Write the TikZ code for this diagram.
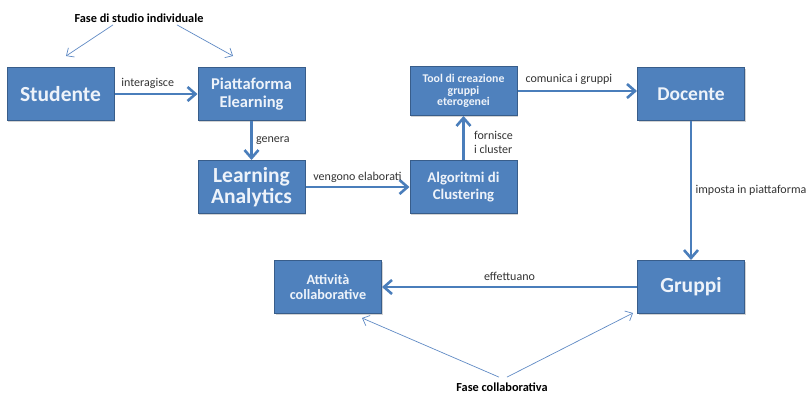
\documentclass[tikz,border=0pt]{standalone}
\usepackage{fontspec}
\setmainfont{Carlito}
\usepackage{tikz}
\usepackage{xcolor}
\usetikzlibrary{arrows.meta,positioning,shadows}

\definecolor{boxblue}{HTML}{4F81BD}
\definecolor{boxborder}{HTML}{385D8A}
\definecolor{boxtext}{HTML}{EEF3FA}
\definecolor{flowblue}{HTML}{4A7EBB}
\definecolor{hintblue}{HTML}{5F8AC4}

\begin{document}
\begin{tikzpicture}[
    x=1pt, y=-1pt,
    box/.style={rectangle, draw=boxborder, fill=boxblue, text=boxtext, line width=1pt,
        minimum width=107pt, minimum height=53pt, inner sep=2pt, align=center,
        drop shadow={shadow xshift=1.2pt, shadow yshift=-1.2pt, opacity=0.35}},
    big/.style={font=\fontsize{21.5}{21}\selectfont\bfseries},
    mid/.style={font=\fontsize{16.5}{17.5}\selectfont\bfseries},
    small/.style={font=\fontsize{11.8}{11.8}\selectfont\bfseries},
    lbl/.style={font=\fontsize{12}{13.5}\selectfont, text=black!80},
    phase/.style={font=\fontsize{12.3}{14}\selectfont\bfseries, text=black},
    flow/.style={-{Straight Barb[length=8pt,width=14pt]}, line width=2.6pt, draw=flowblue},
    hint/.style={-{Straight Barb[length=6pt,width=11pt]}, line width=0.7pt, draw=hintblue}
]
    \useasboundingbox (0,0) rectangle (809,397);

    % Fase individuale
    \node[box, big] (studente) at (60.5,94) {Studente};
    \node[box, mid, right=83pt of studente] (piattaforma) {Piattaforma\\Elearning};
    \node[box, big, below=39pt of piattaforma] (learning) {Learning\\Analytics};
    \node[box, mid, font=\fontsize{14.8}{17.5}\selectfont\bfseries, right=104pt of learning] (algoritmi) {Algoritmi di\\Clustering};
    \node[box, small, minimum height=49pt, above=44pt of algoritmi] (tool) {Tool di creazione\\gruppi\\eterogenei};
    \node[box, big, font=\fontsize{19.5}{20}\selectfont\bfseries] (docente) at (691,94) {Docente};

    % Fase collaborativa
    \node[box, big, below=139pt of docente] (gruppi) {Gruppi};
    \node[box, font=\fontsize{14.2}{14.7}\selectfont\bfseries, left=255pt of gruppi] (attivita) {Attività\\collaborative};

    % Phase labels
    \node[phase] (fasei) at (139,18) {Fase di studio individuale};
    \node[phase] (fasec) at (502,387) {Fase collaborativa};
    \coordinate (fasei1) at (66,56);
    \coordinate (fasei2) at (233,56);
    \coordinate (fasec1) at (362,318);
    \coordinate (fasec2) at (633,313);

    % Flow arrows
    \draw[flow] (studente) -- node[lbl, pos=0.4, above=1pt] {interagisce} (piattaforma);
    \draw[flow] (piattaforma) -- node[lbl, midway, right] {genera} (learning);
    \draw[flow] (learning) -- node[lbl, midway, above=0pt] {vengono elaborati} (algoritmi);
    \draw[flow] (algoritmi) -- node[lbl, pos=0.4, right=6pt, align=left] {fornisce\\i cluster} (tool);
    \draw[flow] (tool.east) -- node[lbl, pos=0.43, above=2pt] {comunica i gruppi} (tool.east -| docente.west);
    \draw[flow] (docente) -- node[lbl, midway, right] {imposta in piattaforma} (gruppi);
    \draw[flow] (gruppi) -- node[lbl, midway, above=2pt] {effettuano} (attivita);

    % Phase arrows
    \draw[hint] ([xshift=-26pt,yshift=1pt]fasei.south) -- (fasei1);
    \draw[hint] ([xshift=38pt,yshift=1pt]fasei.south) -- (fasei2);
    \draw[hint] ([xshift=-3pt,yshift=2pt]fasec.north) -- (fasec1);
    \draw[hint] ([xshift=5pt,yshift=2pt]fasec.north) -- (fasec2);
\end{tikzpicture}
\end{document}
